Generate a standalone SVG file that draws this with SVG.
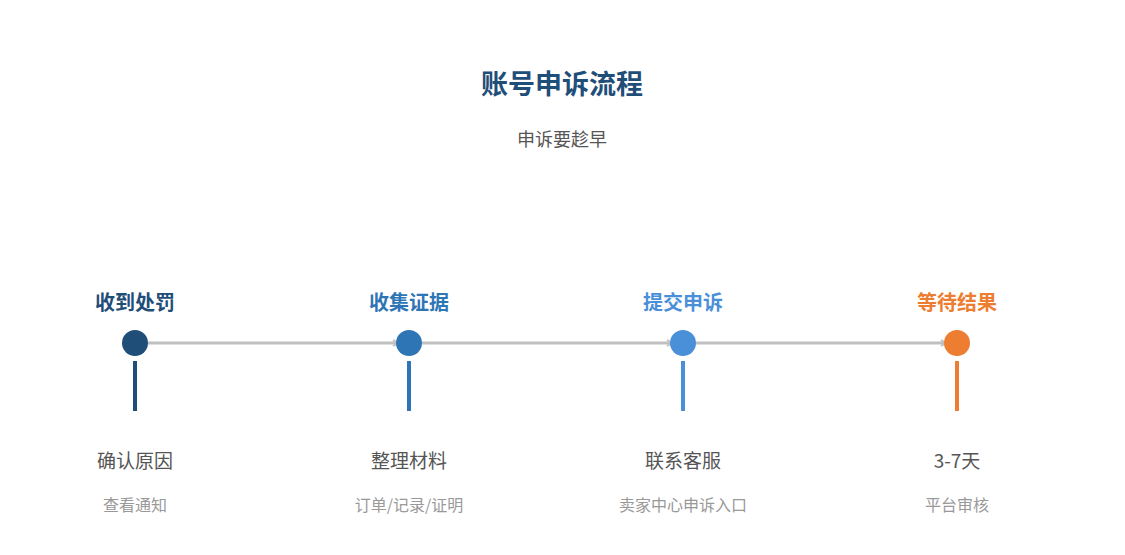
<svg xmlns="http://www.w3.org/2000/svg" width="1125" height="555" viewBox="0 0 1125 555">
<style>
text{font-family:"Noto Sans CJK SC","Noto Sans",sans-serif;text-anchor:middle}
.h{font-size:20px;font-weight:bold}
.m{font-size:19px;fill:#555}
.s{font-size:16px;fill:#999}
.c{stroke:#c0c0c0;stroke-width:3;fill:none}
</style>
<defs><marker id="a" markerWidth="8" markerHeight="8" refX="6" refY="4" orient="auto" markerUnits="userSpaceOnUse"><path d="M1,1 L6,4 L1,7" fill="none" stroke="#c0c0c0" stroke-width="2"/></marker></defs>
<rect width="1125" height="555" fill="#fff"/>
<text x="562" y="94" style="font-size:27px;font-weight:bold;fill:#1f4e79">账号申诉流程</text>
<text x="562" y="146" style="font-size:18px;fill:#555">申诉要趁早</text>
<g id="connectors">
<line class="c" x1="148" y1="343" x2="398" y2="343" marker-end="url(#a)"/>
<line class="c" x1="422" y1="343" x2="672" y2="343" marker-end="url(#a)"/>
<line class="c" x1="696" y1="343" x2="946" y2="343" marker-end="url(#a)"/>
</g>
<g id="n1"><text class="h" x="135" y="310" fill="#1f4e79">收到处罚</text><circle cx="135" cy="343" r="13" fill="#1f4e79"/><rect x="133" y="361" width="4" height="50" fill="#1f4e79"/><text class="m" x="135" y="468">确认原因</text><text class="s" x="135" y="511">查看通知</text></g>
<g id="n2"><text class="h" x="409" y="310" fill="#2e75b6">收集证据</text><circle cx="409" cy="343" r="13" fill="#2e75b6"/><rect x="407" y="361" width="4" height="50" fill="#2e75b6"/><text class="m" x="409" y="468">整理材料</text><text class="s" x="409" y="511">订单/记录/证明</text></g>
<g id="n3"><text class="h" x="683" y="310" fill="#4a90d9">提交申诉</text><circle cx="683" cy="343" r="13" fill="#4a90d9"/><rect x="681" y="361" width="4" height="50" fill="#4a90d9"/><text class="m" x="683" y="468">联系客服</text><text class="s" x="683" y="511">卖家中心申诉入口</text></g>
<g id="n4"><text class="h" x="957" y="310" fill="#ed7d31">等待结果</text><circle cx="957" cy="343" r="13" fill="#ed7d31"/><rect x="955" y="361" width="4" height="50" fill="#ed7d31"/><text class="m" x="957" y="468">3-7天</text><text class="s" x="957" y="511">平台审核</text></g>
</svg>
